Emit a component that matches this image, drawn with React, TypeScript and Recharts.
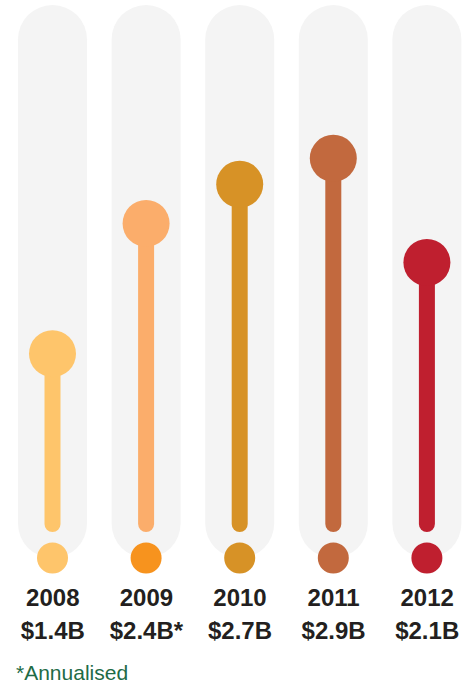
import { BarChart, Bar, XAxis, YAxis } from 'recharts';

const years = ['2008', '2009', '2010', '2011', '2012'];
const revenue = [1.4, 2.4, 2.7, 2.9, 2.1]; // $ billions
const notes = ['', '*', '', '', ''];

const stemColors = ['#fec56b', '#fbad6b', '#d79226', '#c2693e', '#bf1f2f'];
const baseColors = ['#fec56b', '#f7931e', '#d79226', '#c2693e', '#bf1f2f'];

const data = years.map((year, i) => ({ year, value: revenue[i] }));

const W = 475;
const H = 683;
const TOP = 15;
const BOTTOM = 147;
const FONT = '"Liberation Sans", Arial, Helvetica, sans-serif';

function Lollipop(props: any) {
  const { x, y, width, height, index } = props;
  const cx = x + width / 2;
  const zeroY = y + height;
  const pillTop = TOP - 10;
  const pillBottom = zeroY + 22;
  const r = width / 2;
  return (
    <g>
      <rect
        x={x}
        y={pillTop}
        width={width}
        height={pillBottom - pillTop}
        rx={r}
        ry={r}
        fill="#f4f4f4"
      />
      <line
        x1={cx}
        y1={y}
        x2={cx}
        y2={zeroY - 12}
        stroke={stemColors[index]}
        strokeWidth={16}
        strokeLinecap="round"
      />
      <circle cx={cx} cy={y} r={23.5} fill={stemColors[index]} />
      <circle cx={cx} cy={pillBottom} r={15.5} fill={baseColors[index]} />
    </g>
  );
}

function YearTick(props: any) {
  const { x, y, payload, index } = props;
  return (
    <g fontFamily={FONT} fontWeight="bold" fontSize={24} fill="#231f20" textAnchor="middle">
      <text x={x} y={y + 69.5}>{payload.value}</text>
      <text x={x} y={y + 102.5}>{`$${revenue[index].toFixed(1)}B${notes[index]}`}</text>
    </g>
  );
}

export default function App() {
  return (
    <div style={{ position: 'absolute', left: 0, top: 0, width: W, height: H, background: '#fff' }}>
      <BarChart
        width={W}
        height={H}
        data={data}
        margin={{ top: TOP, right: 1, bottom: 0, left: 6 }}
        barCategoryGap={0}
      >
        <YAxis hide domain={[0, 4]} />
        <XAxis
          dataKey="year"
          height={BOTTOM}
          axisLine={false}
          tickLine={false}
          tickSize={0}
          tickMargin={0}
          interval={0}
          tick={<YearTick />}
        />
        <Bar dataKey="value" barSize={69} shape={<Lollipop />} isAnimationActive={false} />
      </BarChart>
      <div
        style={{
          position: 'absolute',
          left: 16,
          top: 662,
          fontFamily: FONT,
          fontSize: 21,
          lineHeight: '21px',
          color: '#1e6b46',
        }}
      >
        *Annualised
      </div>
    </div>
  );
}
